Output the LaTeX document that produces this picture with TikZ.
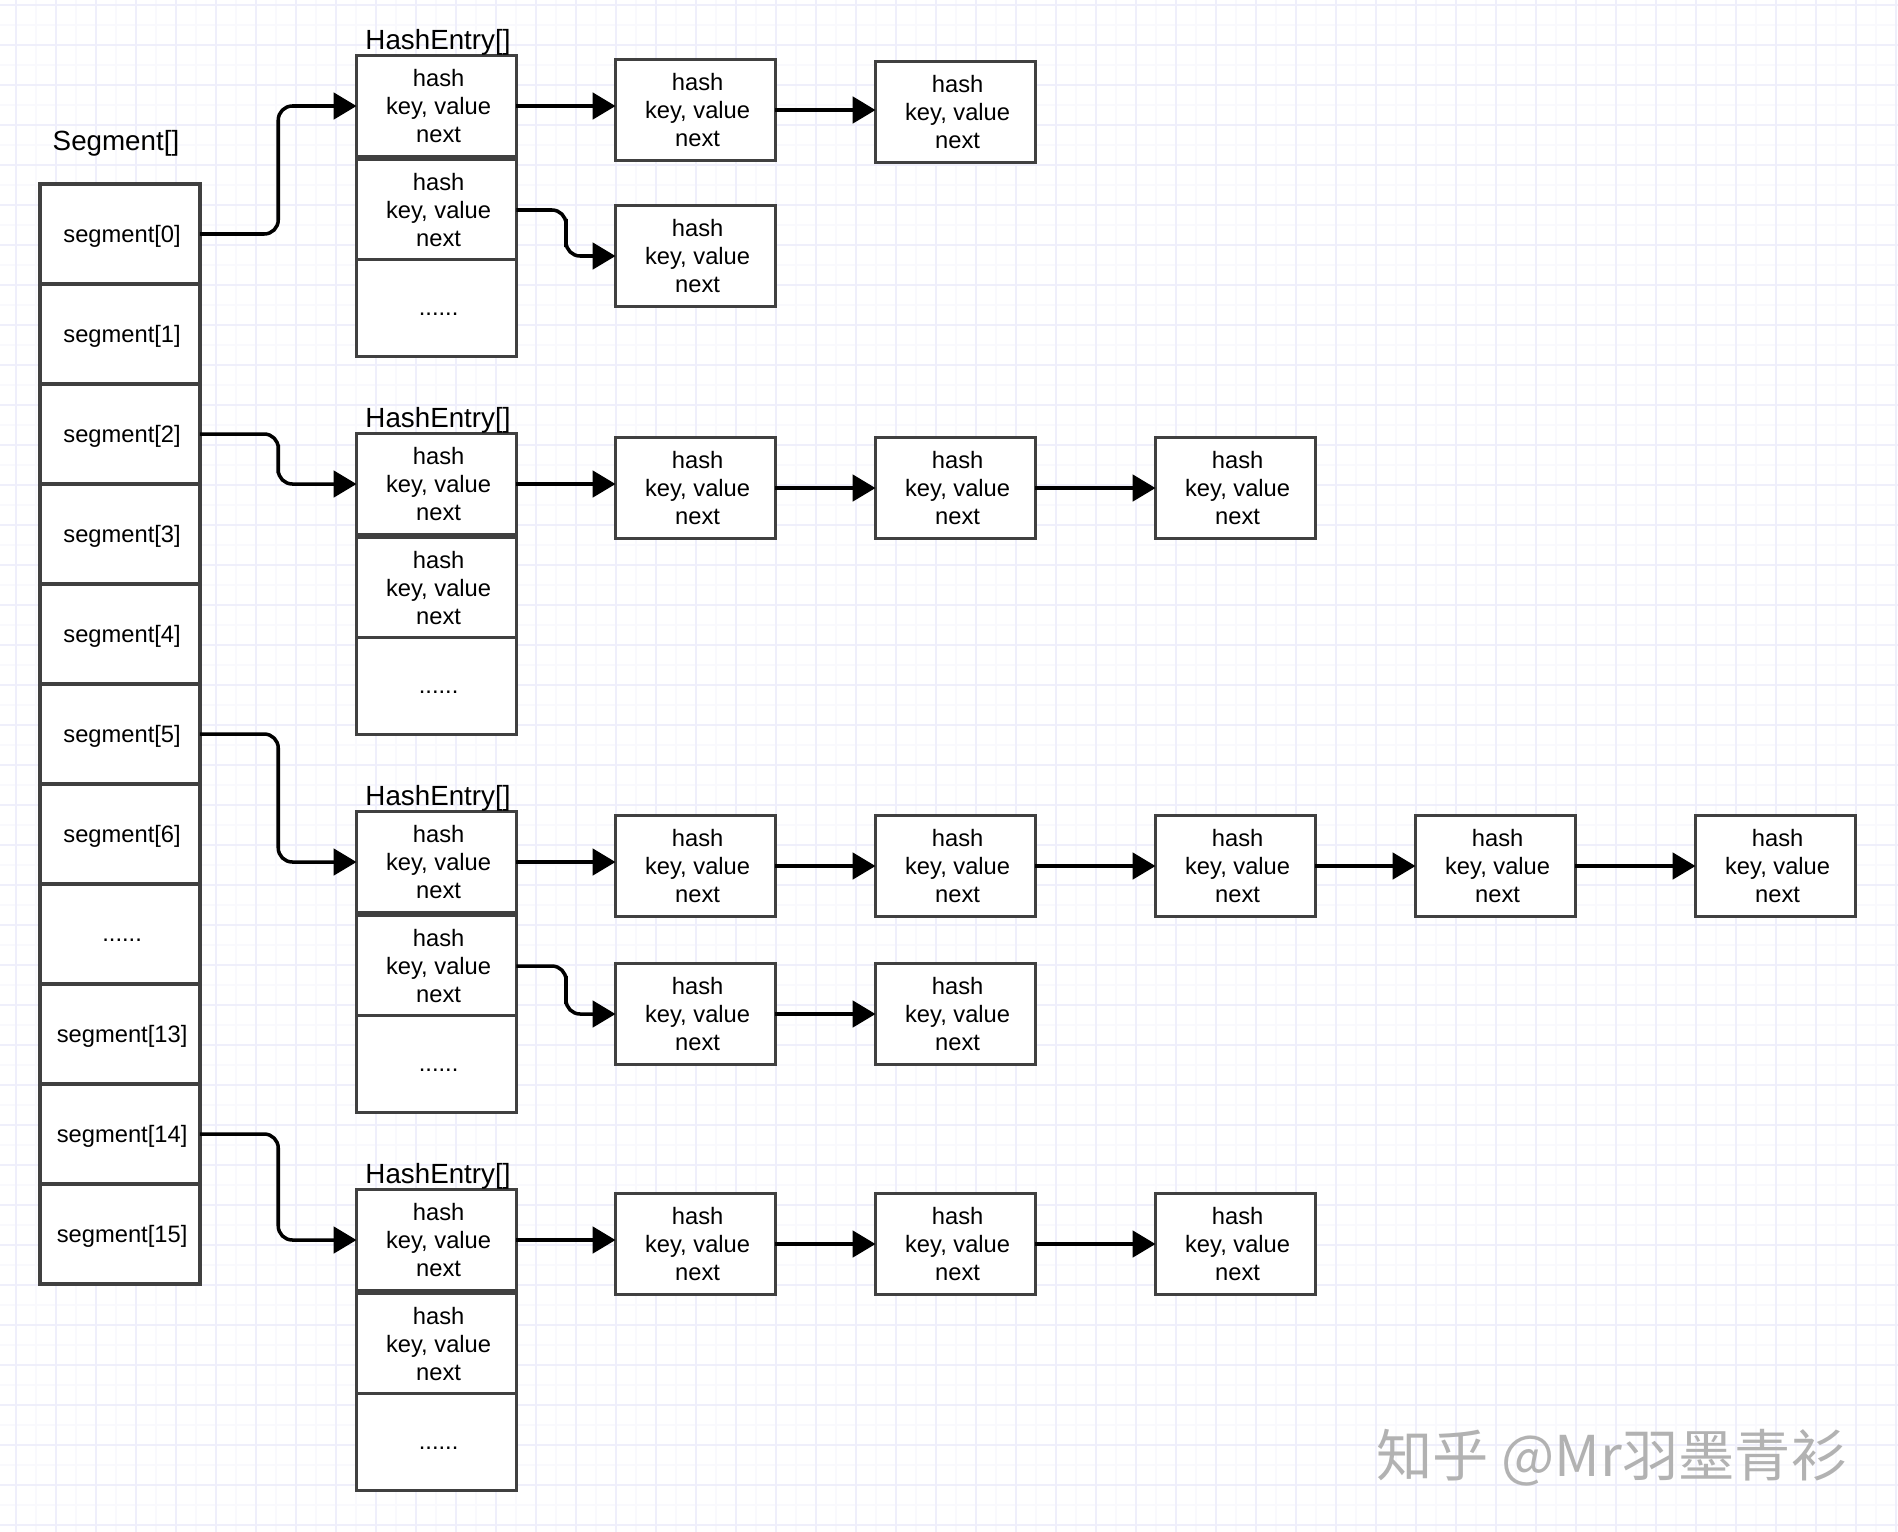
\documentclass[tikz,border=0pt]{standalone}
\usepackage{fontspec}
\setmainfont{Liberation Sans}
\newfontfamily\cjkwm{Noto Sans CJK SC}
\usetikzlibrary{arrows.meta,calc}
\tikzset{
  cell/.style={draw=boxgray,line width=2pt,fill=white,minimum width=3.2cm,minimum height=2.02cm,inner sep=0pt,outer sep=0pt,align=center,font=\fontsize{13.5}{15.9}\selectfont},
  row/.style={minimum height=2cm,text height=12pt,text depth=2.2pt},
  dots/.style={text height=10pt,text depth=2pt},
  link/.style={draw=black,line width=2pt,-{Triangle[length=13pt,width=15pt]},rounded corners=8pt},
  title/.style={font=\fontsize{15.8}{18}\selectfont}
}
\definecolor{boxgray}{HTML}{404040}
\definecolor{gridline}{HTML}{EFEFFB}
\definecolor{gridfaint}{HTML}{F9F9FD}
\newcommand{\sh}{\hspace*{2.4pt}}
\newcommand{\kv}{\sh hash\\\sh key, value\\\sh next}
\begin{document}
\begin{tikzpicture}[x=0.02cm,y=-0.02cm]
\useasboundingbox (0,0) rectangle (1898,1532);
\fill[white] (0,0) rectangle (1898,1532);

% grid
\foreach \gx in {36,76,...,1896}
  \draw[gridfaint,line width=0.8pt] (\gx,0) -- (\gx,1532);
\foreach \gy in {25,65,...,1525}
  \draw[gridfaint,line width=0.8pt] (0,\gy) -- (1898,\gy);
\foreach \gx in {16,56,...,1896}
  \draw[gridline,line width=0.8pt] (\gx,0) -- (\gx,1532);
\foreach \gy in {5,45,...,1525}
  \draw[gridline,line width=0.8pt] (0,\gy) -- (1898,\gy);

% segment column
\node[title] (segtitle) at (116,143.5) {Segment[]};
\foreach \r/\t in {0/segment[0],1/segment[1],2/segment[2],3/segment[3],4/segment[4],5/segment[5],6/segment[6],8/segment[13],9/segment[14],10/segment[15]}
  \node[cell,row] (seg\r) at (120,234+100*\r) {\sh\t};
\node[cell,minimum height=2cm,dots] (seg7) at (120,934) {\sh......};

% hash entry groups
\foreach \g/\ty in {a/56,b/434,c/812,d/1190} {
  \node[cell] (\g1) at (436.5,\ty+50) {\kv};
  \node[cell] (\g2) at (436.5,\ty+154) {\kv};
  \node[cell,minimum height=1.94cm,dots] (\g3) at (436.5,\ty+252) {\sh......};
  \node[title] (\g title) at (438,\ty-13.5) {HashEntry[]};
}

% first group
\node[cell] (a11) at (695.5,110) {\kv};
\node[cell] (a12) at (955.5,112) {\kv};
\node[cell] (a21) at (695.5,256) {\kv};

% second group
\node[cell] (b11) at (695.5,488) {\kv};
\node[cell] (b12) at (955.5,488) {\kv};
\node[cell] (b13) at (1235.5,488) {\kv};

% third group
\node[cell] (c11) at (695.5,866) {\kv};
\node[cell] (c12) at (955.5,866) {\kv};
\node[cell] (c13) at (1235.5,866) {\kv};
\node[cell] (c14) at (1495.5,866) {\kv};
\node[cell] (c15) at (1775.5,866) {\kv};
\node[cell] (c21) at (695.5,1014) {\kv};
\node[cell] (c22) at (955.5,1014) {\kv};

% fourth group
\node[cell] (d11) at (695.5,1244) {\kv};
\node[cell] (d12) at (955.5,1244) {\kv};
\node[cell] (d13) at (1235.5,1244) {\kv};

% segment to table
\foreach \s/\e in {seg0/a1,seg2/b1,seg5/c1,seg9/d1}
  \draw[link] (\s.east) -| ($(\s.east)!0.5!(\e.west)$) |- (\e.west);

% table to first node of a list
\foreach \s/\e in {a1/a11,b1/b11,c1/c11,d1/d11}
  \draw[link] (\s.east) -- (\s.east -| \e.west);
\foreach \s/\e in {a2/a21,c2/c21}
  \draw[link] (\s.east) -| ($(\s.east)!0.5!(\e.west)$) |- (\e.west);

% along the lists
\foreach \s/\e in {a11/a12,b11/b12,b12/b13,c11/c12,c12/c13,c13/c14,c14/c15,c21/c22,d11/d12,d12/d13}
  \draw[link] (\s.east) -- (\s.east -| \e.west);

\node[text=black!30,font=\fontsize{32}{36}\selectfont] (mark) at (1612,1458) {\cjkwm 知乎 @Mr羽墨青衫};
\end{tikzpicture}
\end{document}
